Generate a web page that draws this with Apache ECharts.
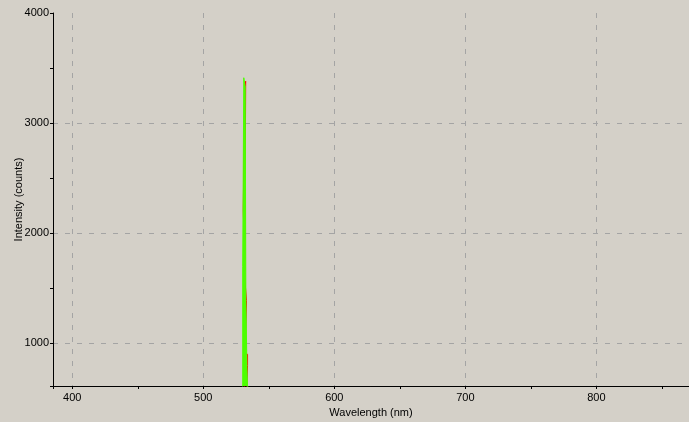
<!doctype html>
<html>
<head>
    <meta charset="utf-8">
    <title>spectrum</title>
    <style type="text/css">
        body, html {
            width: 100%;
            height: 100%;
            margin: 0;
            padding: 0;
            background: #d4d0c8;
        }
    </style>
</head>
<body>
<div id="container" style="width: 689px; height: 422px"></div>

<script type="text/javascript" src="https://cdn.jsdelivr.net/npm/echarts@6.0.0/dist/echarts.min.js"></script>
<script type="text/javascript">
    // green trace around the 532 nm line (drawn on top, filled under the peak)
    const greenWl = [529.9, 530.1, 530.1, 530.9, 530.9, 532.0, 532.0, 532.5, 532.5, 533.3, 533.3, 534.2, 534.4];
    const greenCounts = [300, 600, 1700, 1705, 3412, 3412, 3330, 3320, 1400, 1390, 790, 780, 300];

    // red trace (mostly hidden behind the green one)
    const redWl = [531.5, 531.5, 530.5, 530.5, 531.6, 531.6, 532.35, 532.35, 531.6, 531.6, 533.0, 533.0, 532.0, 532.0, 533.8, 533.8, 532.5, 532.5];
    const redCounts = [300, 1690, 1695, 2210, 2215, 3330, 3380, 3335, 3320, 1600, 1595, 1390, 1385, 900, 900, 800, 795, 300];

    const xRange = [385.3, 870.7];
    const yRange = [612, 4000];

    function pairs(xs, ys) {
        return xs.map(function (x, i) { return [x, ys[i]]; });
    }

    const myChart = echarts.init(document.getElementById('container'), null, {renderer: 'canvas'});

    const gridLine = {
        show: true,
        showMinLine: false,
        showMaxLine: false,
        lineStyle: {color: '#a4a4a4', type: [5, 7], width: 1}
    };
    const labelFont = {color: '#000', fontFamily: 'Liberation Sans', fontSize: 11};
    const plain = function (v) { return String(v); };

    const option = {
        backgroundColor: '#d4d0c8',
        animation: false,
        grid: {left: 53, top: 13, right: 0, bottom: 36, containLabel: false, outerBoundsMode: 'none'},
        xAxis: {
            type: 'value',
            min: xRange[0],
            max: xRange[1],
            splitNumber: 5,
            name: 'Wavelength (nm)',
            nameLocation: 'middle',
            nameGap: 20,
            nameTextStyle: labelFont,
            axisLine: {show: true, onZero: false, lineStyle: {color: '#000', width: 1}},
            axisTick: {show: true, length: 3, lineStyle: {color: '#000'}},
            minorTick: {show: true, splitNumber: 2, length: 3, lineStyle: {color: '#000'}},
            axisLabel: Object.assign({margin: 6, showMinLabel: false, showMaxLabel: false, formatter: plain}, labelFont),
            splitLine: gridLine
        },
        yAxis: {
            type: 'value',
            min: yRange[0],
            max: yRange[1],
            splitNumber: 4,
            name: 'Intensity (counts)',
            nameLocation: 'middle',
            nameGap: 29,
            nameMoveOverlap: false,
            nameTextStyle: labelFont,
            axisLine: {show: true, onZero: false, lineStyle: {color: '#000', width: 1}},
            axisTick: {show: true, length: 3, lineStyle: {color: '#000'}},
            minorTick: {show: true, splitNumber: 2, length: 3, lineStyle: {color: '#000'}},
            axisLabel: Object.assign({margin: 4, showMinLabel: false, formatter: plain}, labelFont),
            splitLine: gridLine
        },
        series: [
            {
                name: 'red',
                type: 'line',
                z: 2,
                data: pairs(redWl, redCounts),
                showSymbol: false,
                lineStyle: {color: '#ff0000', width: 1},
                itemStyle: {color: '#ff0000'}
            },
            {
                name: 'green',
                type: 'line',
                z: 3,
                data: pairs(greenWl, greenCounts),
                showSymbol: false,
                lineStyle: {color: '#4cff00', width: 1},
                itemStyle: {color: '#4cff00'},
                areaStyle: {color: '#4cff00', opacity: 1}
            }
        ]
    };

    myChart.setOption(option);
</script>
</body>
</html>
